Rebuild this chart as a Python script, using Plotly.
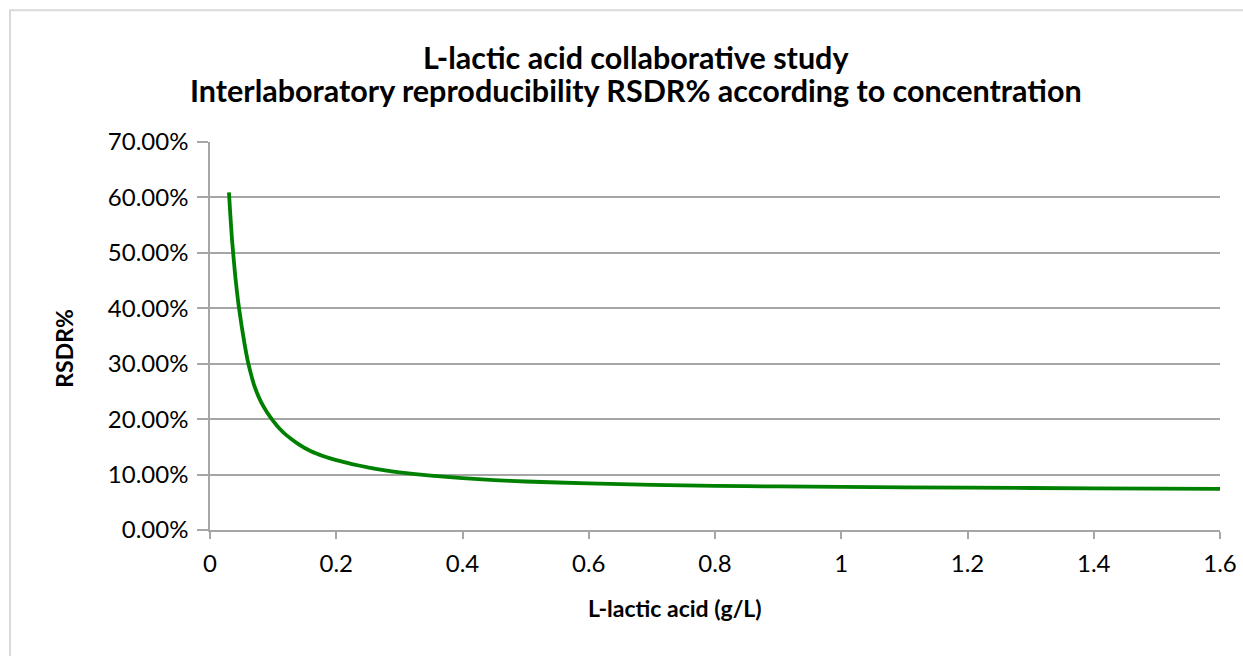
import plotly.graph_objects as go

# Concentration of L-lactic acid (g/L)
conc = [0.03, 0.032, 0.035, 0.04, 0.045, 0.05, 0.055, 0.06, 0.065, 0.07, 0.08, 0.09,
        0.10, 0.11, 0.12, 0.14, 0.16, 0.18, 0.20, 0.225, 0.25, 0.275, 0.30, 0.35, 0.40,
        0.45, 0.50, 0.60, 0.70, 0.80, 0.90, 1.00, 1.20, 1.40, 1.60]
# RSDR (%)
rsdr_pct = [60.9, 57.2, 52.2, 45.8, 40.8, 36.9, 33.4, 30.4, 28.1, 26.1, 23.3, 21.3,
            19.7, 18.3, 17.2, 15.5, 14.2, 13.3, 12.6, 11.9, 11.3, 10.8, 10.4, 9.8, 9.35,
            9.0, 8.75, 8.4, 8.15, 7.97, 7.86, 7.77, 7.63, 7.52, 7.42]
rsdr = [v / 100 for v in rsdr_pct]

title_lines = ["L-lactic acid collaborative study",
               "Interlaboratory reproducibility RSDR% according to concentration"]
x_title = "L-lactic acid (g/L)"
y_title = "RSDR%"

FONT = "Lato"
OFF = 0  # body margin removed via post_script
W, H = 1243, 656
# plot area in page pixels: x 210..1220, y 142..530.5
L, R = 210 - OFF, W - (1220 - OFF)
T, B = 142 - OFF, H - (530.5 - OFF)
pw, ph = W - L - R, H - T - B


def px(x):
    return (x - OFF - L) / pw


def py(y):
    return (H - B - (y - OFF)) / ph


fig = go.Figure()
fig.add_trace(go.Scatter(x=conc, y=rsdr, mode="lines",
                         line=dict(color="#008000", width=3.8, shape="spline", smoothing=0.5),
                         hoverinfo="x+y", showlegend=False))

axis_col = "#a6a6a6"
tick_font = dict(family=FONT, size=24, color="#000")
fig.update_xaxes(range=[0, 1.6], dtick=0.2, tick0=0, showgrid=False, zeroline=False,
                 showline=True, linecolor=axis_col, linewidth=1.5,
                 ticks="outside", ticklen=7, tickcolor=axis_col, tickwidth=1.5,
                 tickfont=tick_font, ticklabelstandoff=4, ticklabeloverflow="allow",
                 automargin=False)
fig.update_yaxes(range=[0, 0.7], dtick=0.1, tick0=0, tickformat=".2%", showgrid=True,
                 gridcolor=axis_col, gridwidth=1.5, zeroline=False,
                 showline=True, linecolor=axis_col, linewidth=1.5,
                 ticks="outside", ticklen=11, tickcolor=axis_col, tickwidth=1.5,
                 tickfont=tick_font, ticklabelstandoff=4, automargin=False)

anns = []
for text, yy in ((title_lines[0], 57), (title_lines[1], 90)):
    anns.append(dict(text="<b>%s</b>" % text, x=px(636), y=py(yy), xref="paper", yref="paper",
                     showarrow=False, xanchor="center", yanchor="middle",
                     font=dict(family=FONT, size=30.5, color="#000")))
anns.append(dict(text="<b>%s</b>" % x_title, x=px(675), y=py(609), xref="paper", yref="paper",
                 showarrow=False, xanchor="center", yanchor="middle",
                 font=dict(family=FONT, size=23, color="#000")))
anns.append(dict(text="<b>%s</b>" % y_title, x=px(64), y=py(349), xref="paper", yref="paper",
                 showarrow=False, xanchor="center", yanchor="middle", textangle=-90,
                 font=dict(family=FONT, size=23, color="#000")))

fig.update_layout(
    width=W, height=H, margin=dict(l=L, r=R, t=T, b=B, autoexpand=False),
    paper_bgcolor="white", plot_bgcolor="white",
    annotations=anns,
    shapes=[dict(type="rect", xref="paper", yref="paper",
                 x0=px(10), x1=px(1270), y0=py(680), y1=py(10),
                 line=dict(color="#d9d9d9", width=2), fillcolor="rgba(0,0,0,0)", layer="below")],
)

fig.write_html("out.html", config={"displayModeBar": False},
               post_script="document.body.style.margin='0px';"
                           "document.body.style.overflow='hidden';")
